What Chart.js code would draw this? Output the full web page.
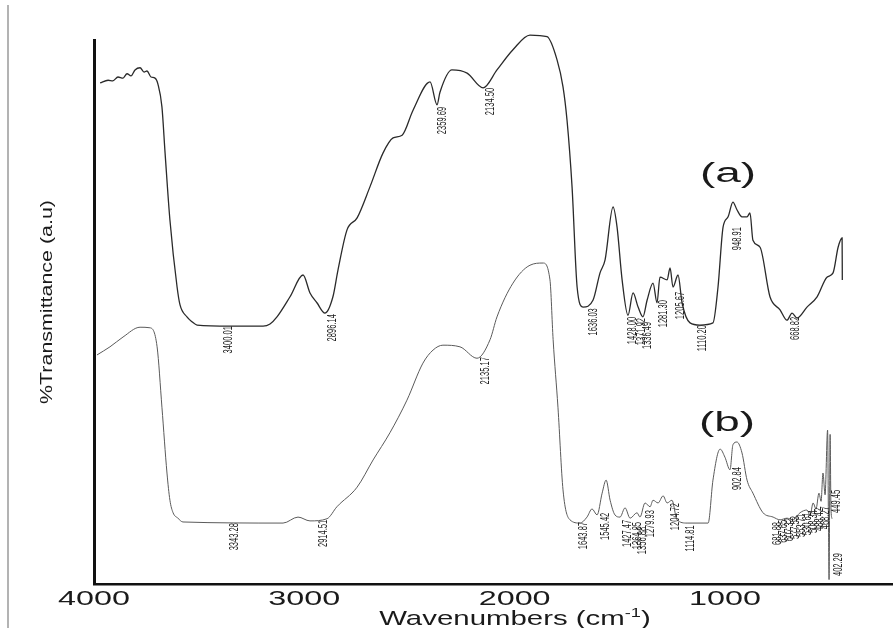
<!DOCTYPE html>
<html>
<head>
<meta charset="utf-8">
<script src="https://cdn.jsdelivr.net/npm/chart.js@4.4.1/dist/chart.umd.min.js"></script>
<style>
  html, body { margin: 0; padding: 0; background: #fff; }
</style>
</head>
<body>
<canvas id="ftir" width="893" height="628"></canvas>
<script>
// spectrum (a), wavenumber (cm-1) and %T (a.u.)
const waveA = [3971, 3933, 3910, 3886, 3862, 3843, 3824, 3805, 3781, 3762, 3748, 3729, 3710, 3696, 3677, 3662,
  3639, 3605, 3591, 3558, 3534, 3510, 3353, 3196, 3163, 3130, 3068, 3006,
  2973, 2940, 2902, 2864, 2840, 2797, 2749, 2688, 2626, 2578, 2535, 2483, 2402, 2369, 2355, 2298, 2226, 2150,
  2084, 2008, 1927, 1846, 1798, 1770, 1751, 1727, 1703, 1675, 1627, 1594, 1570, 1532, 1513, 1489, 1461, 1437,
  1413, 1390, 1370, 1342, 1323, 1309, 1275, 1261, 1247, 1223, 1204, 1166, 1119, 1057, 1033, 1009, 985, 962,
  943, 919, 895, 881, 867, 833, 786, 738, 705, 681, 657, 610, 562, 515, 486, 462, 443, 442];
const transA = [92.1, 92.6, 92.5, 93.2, 93.0, 93.8, 93.4, 94.5, 94.9, 94.1, 94.3, 93.2, 93.0, 91.9, 87.7, 79.2,
  66.9, 54.6, 51.3, 49.1, 48.2, 47.6, 47.4, 47.4, 47.8, 49.1, 52.8, 56.8,
  53.5, 51.7, 49.8, 52.8, 57.7, 65.1, 67.3, 73.0, 79.2, 82.0, 82.5, 87.1, 92.3, 88.1, 90.4, 94.5, 93.9, 91.2,
  94.5, 98.2, 100.9, 100.6, 96.3, 91.4, 85.3, 73.0, 54.6, 50.9, 52.2, 57.2, 59.6, 69.3, 65.6, 55.9, 49.4, 53.5,
  50.9, 49.1, 52.2, 55.3, 51.7, 56.4, 55.9, 58.1, 54.6, 56.8, 51.7, 48.0, 47.6, 48.0, 54.6, 65.6, 67.5, 70.2,
  68.8, 67.5, 67.5, 68.2, 63.2, 61.9, 52.8, 50.4, 48.5, 49.8, 48.9, 50.9, 52.8, 56.4, 57.2, 61.9, 63.6, 55.9];

// spectrum (b)
const waveB = [3986, 3924, 3862, 3781, 3734, 3700, 3677, 3653, 3639, 3624, 3601, 3577, 3101, 3030, 2973, 2892, 2845, 2749,
  2673, 2593, 2512, 2436, 2388, 2341, 2260, 2179, 2117, 2084, 2008, 1927, 1865, 1832, 1817, 1794, 1770, 1737,
  1689, 1656, 1632, 1608, 1584, 1565, 1546, 1523, 1499, 1475, 1451, 1418, 1404, 1380, 1356, 1342, 1318, 1294,
  1275, 1252, 1228, 1180, 1080, 1057, 1023, 1000, 976, 962, 943, 919, 895, 867, 819, 771, 738, 705, 676, 643,
  610, 595, 581, 567, 553, 543, 534, 524, 512, 508, 505, 500, 496, 491];
const transB = [42.1, 43.6, 45.4, 47.2, 47.1, 43.6, 32.5, 20.4, 15.4, 13.1, 12.1, 11.4, 11.2, 12.3, 11.6, 12.0, 14.2, 17.8,
  22.8, 27.8, 33.8, 40.6, 43.0, 43.9, 43.6, 41.5, 44.9, 49.1, 55.3, 58.6, 59.0, 55.9, 44.9, 32.5, 17.3, 11.8,
  11.2, 12.3, 13.8, 12.7, 16.7, 19.1, 15.4, 12.7, 12.3, 14.0, 12.1, 13.1, 12.3, 14.9, 14.2, 15.4, 14.9, 16.2,
  14.9, 15.4, 11.8, 11.2, 11.2, 19.1, 24.8, 23.3, 21.0, 25.6, 26.1, 24.1, 19.1, 16.7, 13.1, 12.3, 11.8, 12.1, 11.8, 13.1,
  13.6, 12.6, 14.9, 13.8, 16.7, 15.2, 20.4, 16.4, 28.3, 12.0, 0.8, 27.5, 14.0, 12.0];

const xTicks = [4000, 3000, 2000, 1000];

// peak labels: text, wavenumber where it sits, %T of its upper end
const peakTextA = ['3400.01', '2896.14', '2359.69', '2134.50', '1636.03', '1428.00', '1371.92', '1336.49',
  '1281.30', '1205.67', '1110.20', '948.91', '668.82'];
const peakPosA = [3363, 2868, 2341, 2117, 1627, 1442, 1399, 1370, 1294, 1214, 1109, 943, 667];
const peakTopA = [47.4, 49.6, 87.7, 91.2, 50.7, 49.1, 48.9, 48.2, 52.2, 53.7, 47.6, 65.6, 49.1];

const peakTextB = ['3343.28', '2914.51', '2135.17', '1643.87', '1545.42', '1427.47', '1364.85', '1356.88',
  '1279.93', '1204.72', '1114.81', '902.84', '681.88', '637.65', '607.32', '577.53', '553.71', '530.61',
  '508.34', '488.42', '468.27', '449.45', '402.29'];
const peakPosB = [3330, 2911, 2141, 1675, 1570, 1466, 1418, 1394, 1356, 1237, 1166, 943, 752, 724, 695, 667,
  638, 610, 581, 553, 524, 472, 462];
const peakTopB = [11.2, 11.8, 41.7, 11.4, 13.1, 11.8, 11.4, 10.5, 13.6, 14.9, 10.8, 21.5, 11.4, 11.8, 12.1,
  12.5, 12.9, 13.2, 13.6, 14.0, 14.3, 17.3, 5.7];

function pts(xs, ys) {
  return xs.map((x, i) => ({ x: x, y: ys[i] }));
}

const FONT = '"Liberation Sans", Arial, sans-serif';

// the figure's lettering is stretched sideways, so draw with a horizontal scale
function wideText(ctx, str, x, y, size, sx, align) {
  ctx.save();
  ctx.font = size + 'px ' + FONT;
  ctx.translate(x, y);
  ctx.scale(sx, 1);
  ctx.textAlign = align;
  ctx.textBaseline = 'alphabetic';
  ctx.fillText(str, 0, 0);
  ctx.restore();
}

function upText(ctx, str, x, y, size, sl, align, baseline) {
  ctx.save();
  ctx.font = size + 'px ' + FONT;
  ctx.translate(x, y);
  ctx.rotate(-Math.PI / 2);
  ctx.scale(sl, 1);
  ctx.textAlign = align;
  ctx.textBaseline = baseline;
  ctx.fillText(str, 0, 0);
  ctx.restore();
}

function peakLabels(ctx, xs, ys, texts, pos, tops) {
  texts.forEach((t, i) => {
    upText(ctx, t, xs.getPixelForValue(pos[i]), ys.getPixelForValue(tops[i]), 13, 0.58, 'right', 'middle');
  });
}

const annotate = {
  id: 'annotate',
  afterDraw(chart) {
    const ctx = chart.ctx;
    const xs = chart.scales.x, ys = chart.scales.y;
    ctx.save();
    // scanned page edge
    ctx.strokeStyle = '#9a9a9a';
    ctx.lineWidth = 1.5;
    ctx.beginPath();
    ctx.moveTo(8, 5);
    ctx.lineTo(8, 628);
    ctx.stroke();

    ctx.fillStyle = '#1a1a1a';
    xs.ticks.forEach(t => wideText(ctx, String(t.value), xs.getPixelForValue(t.value), 605, 21, 1.54, 'center'));

    // x title with superscript
    ctx.font = '21px ' + FONT;
    const w1 = ctx.measureText('Wavenumbers (cm').width;
    const w3 = ctx.measureText(')').width;
    ctx.font = '13px ' + FONT;
    const w2 = ctx.measureText('-1').width;
    const sx = 1.4;
    let x0 = 515 - (w1 + w2 + w3) * sx / 2;
    wideText(ctx, 'Wavenumbers (cm', x0, 625, 21, sx, 'left');
    wideText(ctx, '-1', x0 + w1 * sx, 617, 13, sx, 'left');
    wideText(ctx, ')', x0 + (w1 + w2) * sx, 625, 21, sx, 'left');

    // y title
    upText(ctx, '%Transmittance (a.u)', 47, 302, 17, 1.26, 'center', 'middle');

    wideText(ctx, '(a)', 728, 182, 27, 1.7, 'center');
    wideText(ctx, '(b)', 727, 431, 27, 1.7, 'center');

    ctx.fillStyle = '#222';
    peakLabels(ctx, xs, ys, peakTextA, peakPosA, peakTopA);
    peakLabels(ctx, xs, ys, peakTextB, peakPosB, peakTopB);
    ctx.restore();
  }
};

const config = {
  type: 'line',
  data: {
    datasets: [{
      label: '(a)',
      data: pts(waveA, transA),
      borderColor: '#2a2a2a',
      borderWidth: 1.3,
      pointRadius: 0,
      cubicInterpolationMode: 'monotone',
      clip: false
    }, {
      label: '(b)',
      data: pts(waveB, transB),
      borderColor: '#5a5a5a',
      borderWidth: 1,
      pointRadius: 0,
      cubicInterpolationMode: 'monotone',
      clip: false
    }]
  },
  options: {
    responsive: false,
    animation: false,
    devicePixelRatio: 1,
    layout: {
      padding: { top: 40, left: 94, right: 0, bottom: 44 }
    },
    plugins: {
      legend: { display: false },
      tooltip: { enabled: false }
    },
    scales: {
      x: {
        type: 'linear',
        reverse: true,
        min: 201,
        max: 4000,
        afterBuildTicks: (scale) => { scale.ticks = xTicks.map(v => ({ value: v })); },
        ticks: { display: false },
        grid: { display: false, drawTicks: false },
        border: { display: true, color: '#111', width: 2.5 }
      },
      y: {
        min: 0,
        max: 100,
        ticks: { display: false },
        grid: { display: false, drawTicks: false },
        border: { display: true, color: '#111', width: 3 }
      }
    }
  },
  plugins: [annotate]
};

const ftirChart = new Chart(document.getElementById('ftir'), config);
</script>
</body>
</html>
